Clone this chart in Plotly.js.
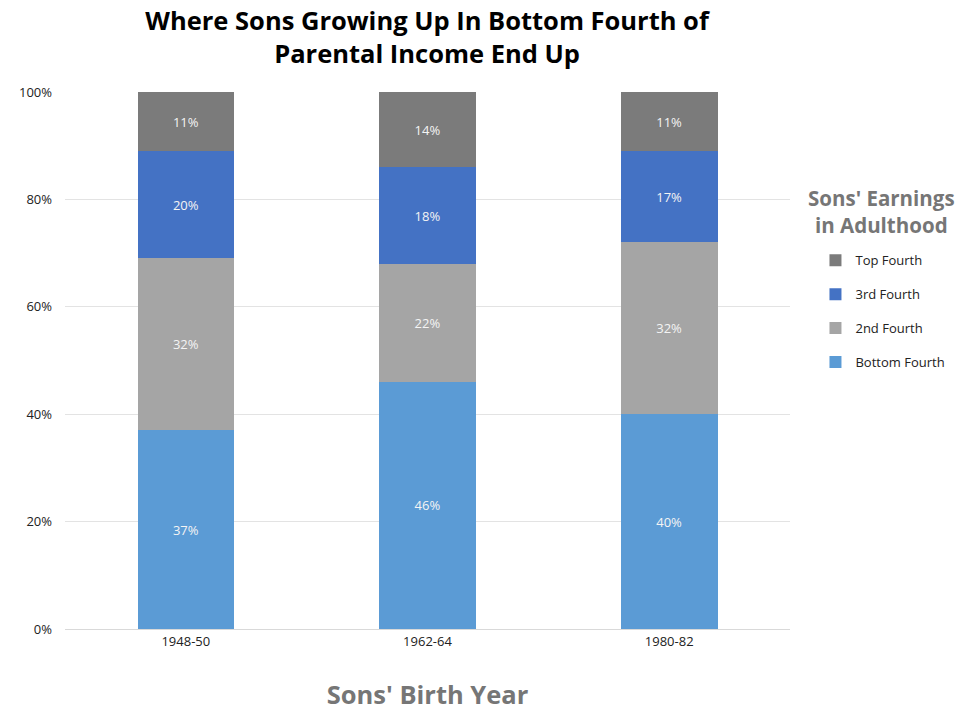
<!DOCTYPE html>
<html>
<head>
<meta charset="utf-8">
<script src="https://cdn.plot.ly/plotly-3.0.1.min.js"></script>
<style>html,body{margin:0;padding:0;background:#fff;}#chart{width:956px;height:711px;}</style>
</head>
<body>
<div id="chart"></div>
<script>
const categories = ["1948-50", "1962-64", "1980-82"];
const bottomFourth = [37, 46, 40];
const secondFourth = [32, 22, 32];
const thirdFourth = [20, 18, 17];
const topFourth = [11, 14, 11];
const seriesNames = ["Bottom Fourth", "2nd Fourth", "3rd Fourth", "Top Fourth"];
const seriesColors = ["#5B9BD5", "#A5A5A5", "#4472C4", "#7B7B7B"];
const seriesValues = [bottomFourth, secondFourth, thirdFourth, topFourth];
const yTickVals = [0, 20, 40, 60, 80, 100];
const yTickText = ["0%", "20%", "40%", "60%", "80%", "100%"];

const FONT = "'Open Sans', 'Noto Sans', sans-serif";
const traces = seriesValues.map((vals, i) => ({
  type: "bar",
  name: seriesNames[i],
  legendgroup: "g" + i,
  legendrank: 10 - i,
  x: categories,
  y: vals,
  marker: {color: seriesColors[i]},
  text: vals.map(v => v + "%"),
  textposition: "inside",
  insidetextanchor: "middle",
  textfont: {color: "#f4f4f4", size: 13, family: FONT},
  hoverinfo: "skip"
}));

const layout = {
  width: 956, height: 711,
  barmode: "stack",
  bargap: 0.6,
  margin: {l: 65, r: 166, t: 92, b: 82, autoexpand: false},
  paper_bgcolor: "#fff", plot_bgcolor: "#fff",
  font: {family: FONT, color: "#222"},
  title: {
    text: "<b>Where Sons Growing Up In Bottom Fourth of<br>Parental Income End Up</b>",
    font: {size: 25.5, color: "#000", family: FONT},
    x: 0.4467, xanchor: "center", xref: "container",
    y: 0.958, yanchor: "top", yref: "container"
  },
  xaxis: {
    tickfont: {size: 13, color: "#222"},
    showline: true, linecolor: "#d9d9d9", linewidth: 1,
    ticks: "",
    title: {text: "<b>Sons' Birth Year</b>", font: {size: 25.5, color: "#767676"}, standoff: 38}
  },
  yaxis: {
    range: [0, 100],
    tickvals: yTickVals,
    ticktext: yTickText,
    tickfont: {size: 13, color: "#222"},
    gridcolor: "#e3e3e3", gridwidth: 1,
    zeroline: false, showline: false,
    ticklabelstandoff: 12
  },
  legend: {
    traceorder: "grouped",
    xref: "container", yref: "container",
    x: 0.853, xanchor: "left", y: 0.655, yanchor: "top",
    font: {size: 13, color: "#222"},
    itemwidth: 30,
    tracegroupgap: 14
  },
  annotations: [{
    xref: "paper", yref: "paper", x: 1.126, y: 0.778, xanchor: "center", yanchor: "middle",
    text: "<b>Sons' Earnings<br>in Adulthood</b>", showarrow: false,
    font: {size: 20.5, color: "#767676", family: FONT}
  }],
  showlegend: true
};

Plotly.newPlot("chart", traces, layout, {displayModeBar: false, staticPlot: true});
</script>
</body>
</html>
